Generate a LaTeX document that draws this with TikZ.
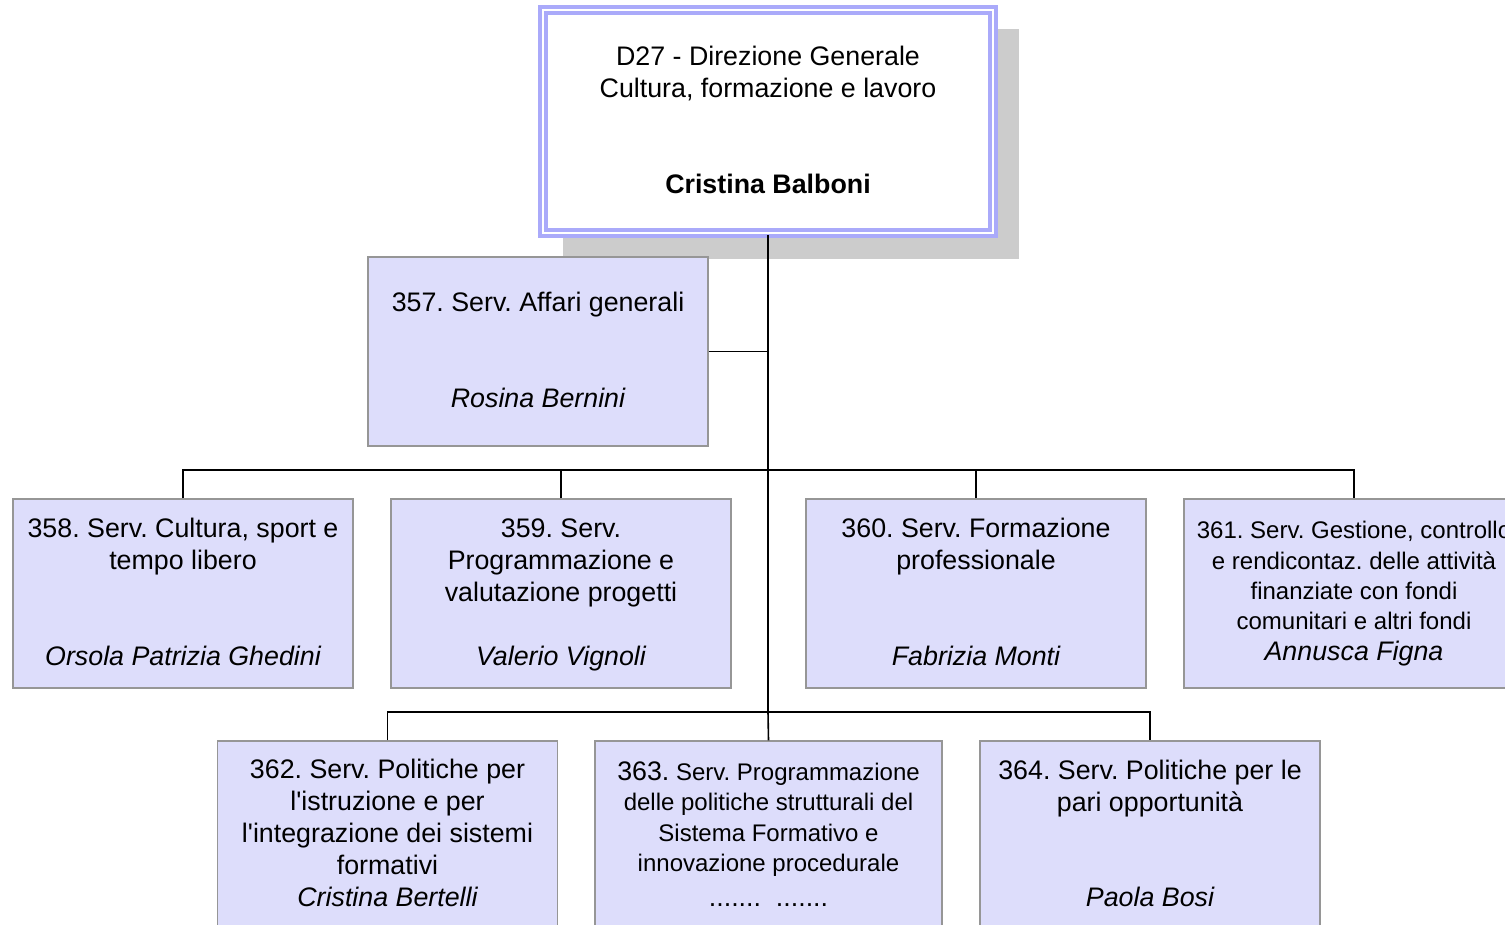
\documentclass[tikz,border=0pt]{standalone}
\usepackage{fontspec}
\newfontfamily\arial{Liberation Sans}
\definecolor{boxfill}{RGB}{221,221,251}
\definecolor{boxedge}{RGB}{150,150,150}
\definecolor{lav}{RGB}{170,170,250}
\definecolor{shadowgray}{RGB}{204,204,204}
\frenchspacing
\begin{document}
\begin{tikzpicture}[x=1pt,y=-1pt,
  unit/.style={draw=boxedge, fill=boxfill, line width=1.3pt, minimum width=340pt, minimum height=189pt, inner sep=0pt},
  big/.style={font=\arial\fontsize{26.8}{32}\selectfont, align=center, anchor=base, inner sep=0pt},
  small/.style={font=\arial\fontsize{24}{30.4}\selectfont, align=center, anchor=base, inner sep=0pt},
  link/.style={line width=1.6pt, black},
  trunk/.style={line width=2.6pt, black}]
\useasboundingbox (0,0) rectangle (1505,925);
\clip (0,0) rectangle (1505,925);
% shadow and top box
\fill[shadowgray] (563,29) rectangle (1019,259);
\node[draw=lav, double=white, double distance=1.3pt, line width=4pt, fill=white, minimum width=450pt, minimum height=223pt, inner sep=0pt] (top) at (768,121.5) {};
% boxes
\node[unit] (b357) at (538,351.5) {};
\node[unit] (b358) at (183,593.5) {};
\node[unit] (b359) at (561,593.5) {};
\node[unit] (b360) at (976,593.5) {};
\node[unit] (b361) at (1354,593.5) {};
\node[unit] (b362) at (387.5,835.5) {};
\node[unit, minimum width=347pt] (b363) at (768.5,835.5) {};
\node[unit] (b364) at (1150,835.5) {};
% junctions
\coordinate (j1) at (768,470);
\coordinate (j2) at (768,712);
% connectors
\draw[trunk] (top.south) -- (j2);
\draw[link] (b357.east) -- (b357.east -| j1);
\draw[link] (b358.north) |- (j1) -| (b361.north);
\draw[link] (b359.north) |- (j1);
\draw[link] (b360.north) |- (j1);
\draw[link] (b362.north) |- (j2) -| (b364.north);
\draw[link] (b363.north) -- (j2);
% texts (anchor base = baseline of last line)
\node[big] (ttop) at (768,97.3) {D27 - Direzione Generale\\Cultura, formazione e lavoro};
\node[big] (ntop) at (768,193.3) {\bfseries Cristina Balboni};
\node[big] (t357) at (538,311.3) {357. Serv. Affari generali};
\node[big] (n357) at (538,407.3) {\itshape Rosina Bernini};
\node[big] (t358) at (183,569.3) {358. Serv. Cultura, sport e\\tempo libero};
\node[big] (n358) at (183,665.3) {\itshape Orsola Patrizia Ghedini};
\node[big] (t359) at (561,601.3) {359. Serv.\\Programmazione e\\valutazione progetti};
\node[big] (n359) at (561,665.3) {\itshape Valerio Vignoli};
\node[big] (t360) at (976,569.3) {360. Serv. Formazione\\professionale};
\node[big] (n360) at (976,665.3) {\itshape Fabrizia Monti};
\node[small] (t361) at (1354,660.3) {361. Serv. Gestione, controllo\\e rendicontaz. delle attività\\finanziate con fondi\\comunitari e altri fondi\\{\fontsize{26.8}{30.4}\selectfont\itshape Annusca Figna}};
\node[big] (t362) at (387.5,906.6) {362. Serv. Politiche per\\l'istruzione e per\\l'integrazione dei sistemi\\formativi\\\itshape Cristina Bertelli};
\node[small] (t363) at (768.5,871.6) {{\fontsize{26.8}{30.4}\selectfont 363.} Serv. Programmazione\\delle politiche strutturali del\\Sistema Formativo e\\innovazione procedurale};
\node[big] (n363) at (768.5,906) {....... \ .......};
\node[big] (t364) at (1150,811.3) {364. Serv. Politiche per le\\pari opportunità};
\node[big] (n364) at (1150,906.3) {\itshape Paola Bosi};
\end{tikzpicture}
\end{document}
